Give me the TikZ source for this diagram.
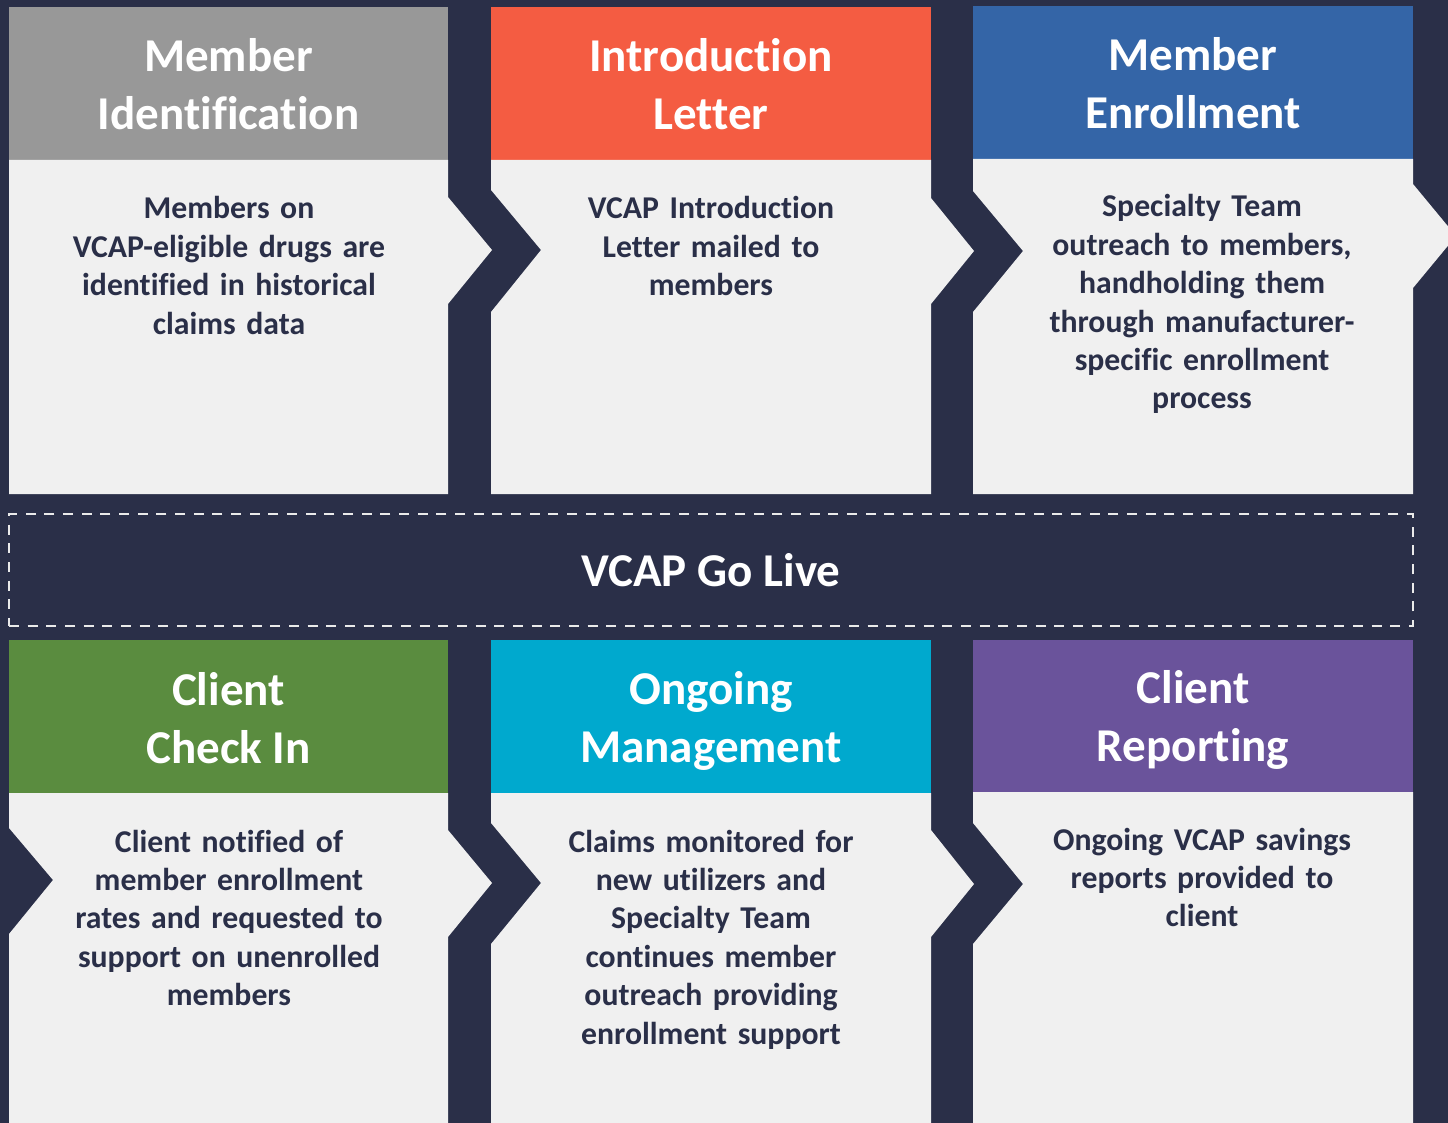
\documentclass[tikz,border=0pt]{standalone}
\usepackage{fontspec}
\setmainfont{Carlito}[Ligatures={NoCommon}]
\definecolor{navy}{HTML}{2A2F48}
\definecolor{paper}{HTML}{F0F0F0}
\definecolor{stone}{HTML}{989898}
\definecolor{coral}{HTML}{F45C42}
\definecolor{cobalt}{HTML}{3465A7}
\definecolor{leaf}{HTML}{5A8C3F}
\definecolor{aqua}{HTML}{00A9CE}
\definecolor{plum}{HTML}{6A539B}
\begin{document}
\begin{tikzpicture}[x=.75pt,y=-.75pt,
  head/.style={text=white,font=\fontsize{35.3}{43.5}\selectfont\bfseries,align=center,inner sep=0pt},
  txt/.style={text=navy,font=\fontsize{23.8}{28.8}\selectfont\bfseries,align=center,text width=320pt,anchor=base,inner sep=0pt}]
\clip (0,0) rectangle (1448,1123);
\fill[navy] (0,0) rectangle (1448,1123);
% top row
\fill[stone] (9,7) rectangle (448,160);
\fill[coral] (491,7) rectangle (931,160);
\fill[cobalt] (973,6) rectangle (1413,159);
\fill[paper] (9,160)--(448,160)--(448,197)--(492,250)--(448,304)--(448,494)--(9,494)--cycle;
\fill[paper] (491,160)--(931,160)--(931,198)--(974,251)--(931,304)--(931,494)--(491,494)--(491,312)--(541,250)--(491,190)--cycle;
\fill[paper] (973,159)--(1413,159)--(1413,184)--(1456,236)--(1413,288)--(1413,494)--(973,494)--(973,312)--(1023,251)--(973,191)--cycle;
\node[head] (ident) at (228.5,84) {Member\\Identification};
\node[head] (letter) at (711,84) {Introduction\\Letter};
\node[head] (enroll) at (1193,83) {Member\\Enrollment};
\node[txt] (identtxt) at (229,219) {Members on\\VCAP-eligible drugs are\\identified in historical\\claims data};
\node[txt] (lettertxt) at (711,219) {VCAP Introduction\\Letter mailed to\\members};
\node[txt] (enrolltxt) at (1202,217) {Specialty Team\\outreach to members,\\handholding them\\through manufacturer-\\specific enrollment\\process};
% go live band
\node[head,draw=paper!95!gray,line width=2pt,dash pattern=on 7.5pt off 6.5pt,
  minimum width=1053pt,minimum height=84pt] (golive) at (711,570) {VCAP Go Live};
% bottom row
\fill[leaf] (9,640) rectangle (448,793);
\fill[aqua] (491,640) rectangle (931,793);
\fill[plum] (973,640) rectangle (1413,792);
\fill[paper] (9,793)--(448,793)--(448,830)--(492,883)--(448,937)--(448,1123)--(9,1123)--(9,934)--(53,880)--(9,828)--cycle;
\fill[paper] (491,793)--(931,793)--(931,830)--(974,884)--(931,937)--(931,1123)--(491,1123)--(491,944)--(541,883)--(491,823)--cycle;
\fill[paper] (973,792)--(1413,792)--(1413,1123)--(973,1123)--(973,944)--(1023,884)--(973,823)--cycle;
\node[head] (checkin) at (228.5,718) {Client\\Check In};
\node[head] (ongoing) at (711,721) {Ongoing\\Management};
\node[head] (report) at (1193,720) {Client\\Reporting};
\node[txt] (checkintxt) at (229,852) {Client notified of\\member enrollment\\rates and requested to\\support on unenrolled\\members};
\node[txt] (ongoingtxt) at (711,852) {Claims monitored for\\new utilizers and\\Specialty Team\\continues member\\outreach providing\\enrollment support};
\node[txt] (reporttxt) at (1202,850) {Ongoing VCAP savings\\reports provided to\\client};
\end{tikzpicture}
\end{document}
